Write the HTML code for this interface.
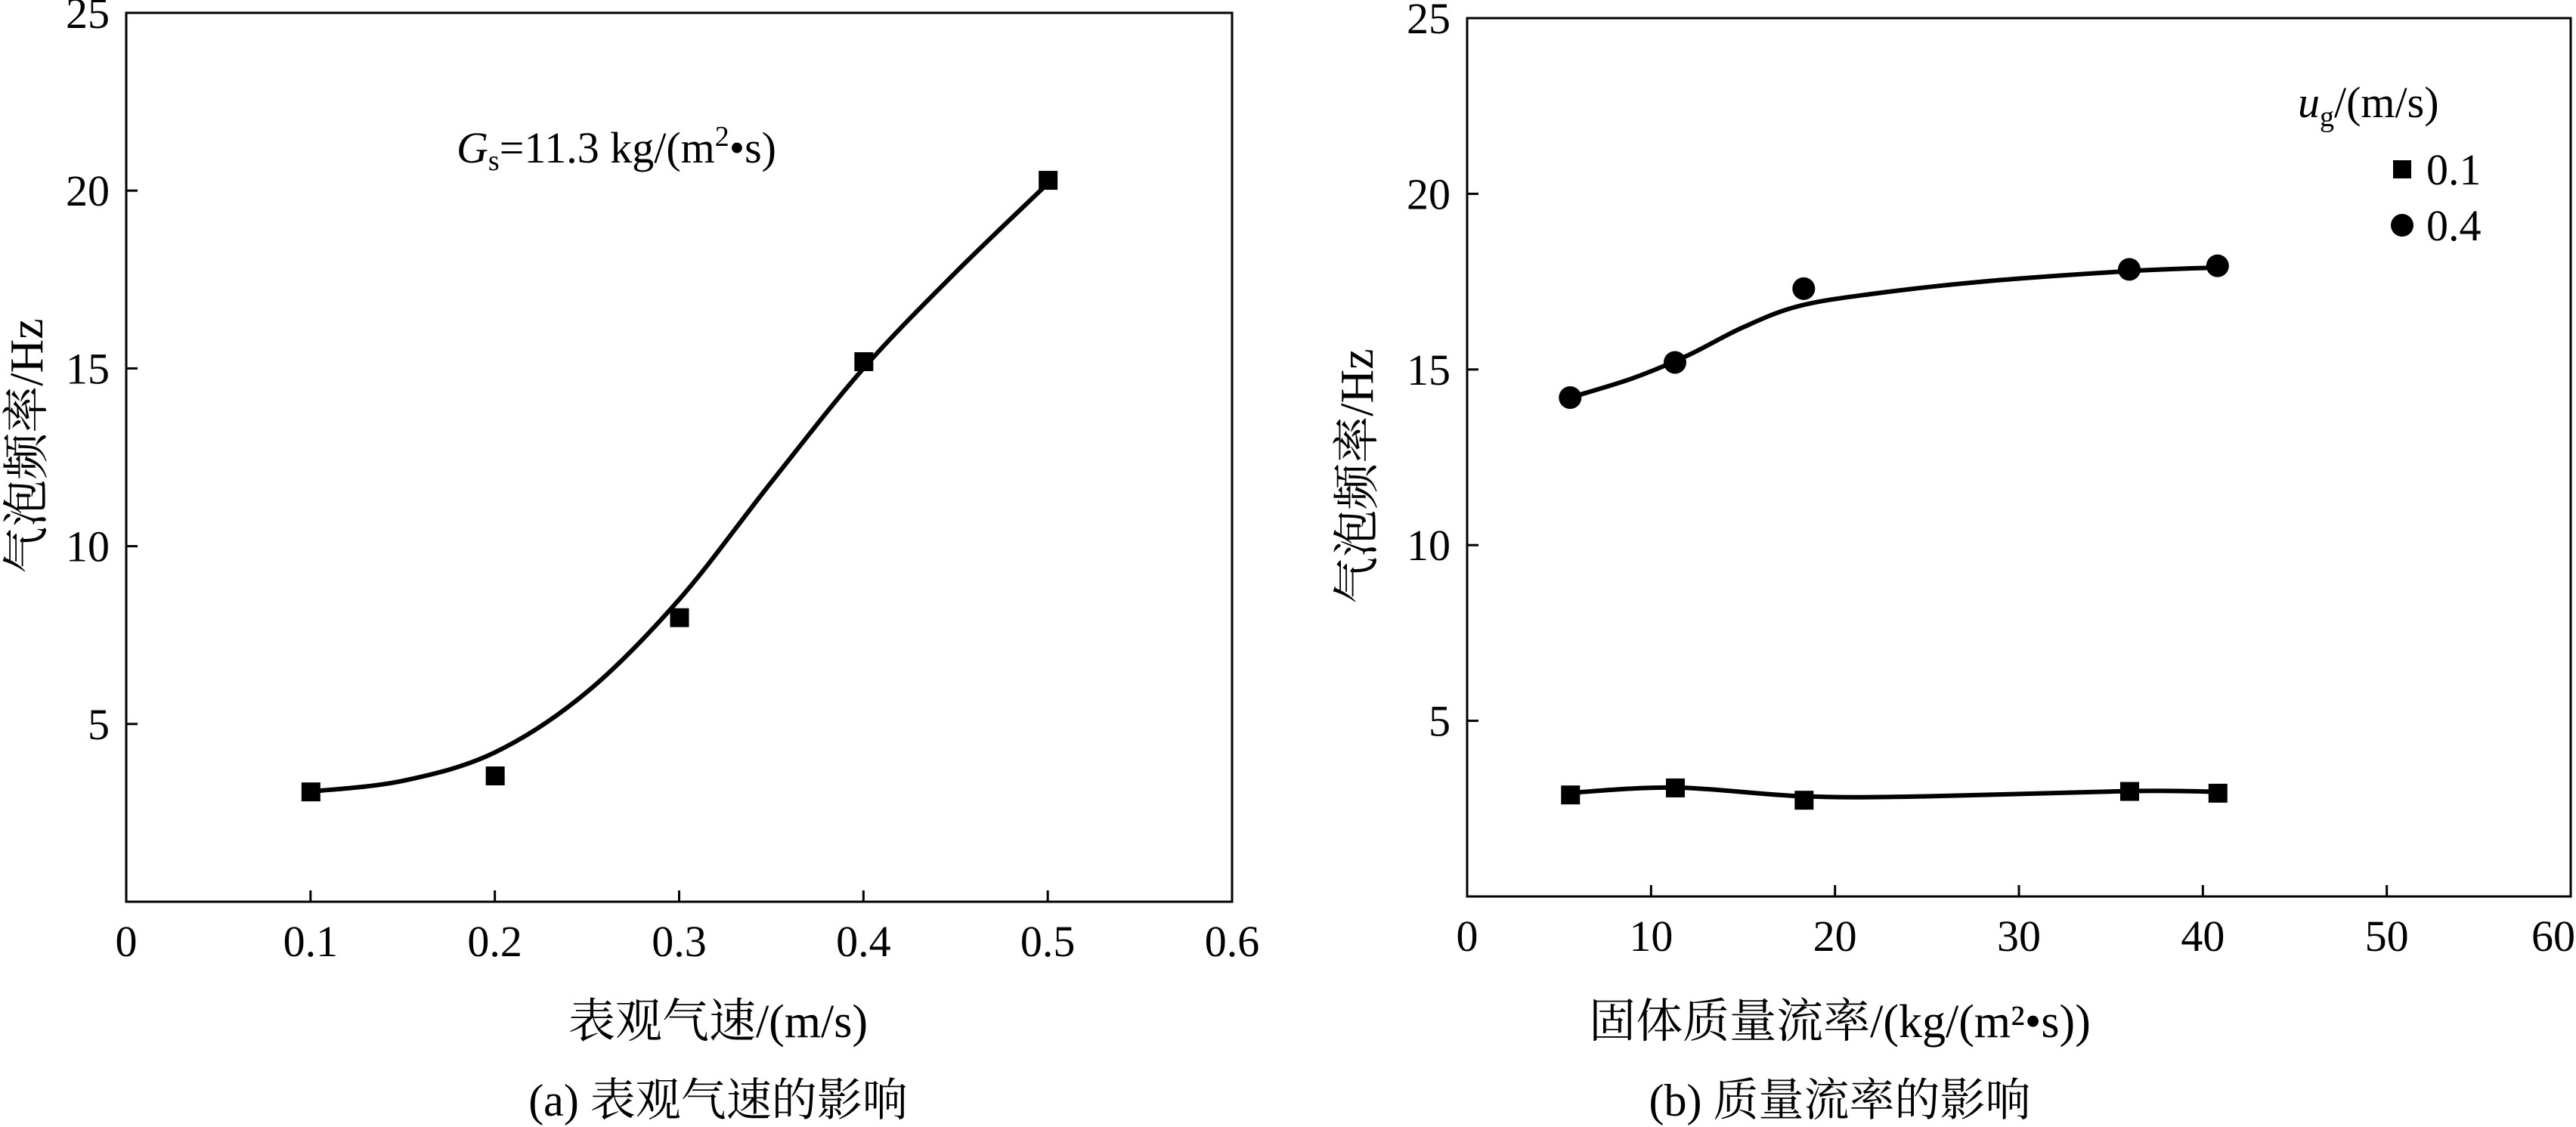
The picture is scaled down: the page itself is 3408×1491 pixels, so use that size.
<!DOCTYPE html>
<html><head><meta charset="utf-8"><style>
html,body{margin:0;padding:0;background:#fff;}
svg{display:block;font-family:"Liberation Serif","Noto Serif CJK SC",serif;}
</style></head><body>
<svg id="svg" width="3408" height="1491" viewBox="0 0 3408 1491" xmlns="http://www.w3.org/2000/svg"></svg>
<script>
// Panel (a) data
const aX = [0.1, 0.2, 0.3, 0.4, 0.5];
const aY = [3.1, 3.55, 8.0, 15.2, 20.3];
const aFitX = [0.1, 0.15, 0.2, 0.25, 0.3, 0.35, 0.4, 0.45, 0.5];
const aFitY = [3.1, 3.4, 4.2, 5.9, 8.5, 11.8, 15.0, 17.7, 20.2];
const aXTicks = [0, 0.1, 0.2, 0.3, 0.4, 0.5, 0.6];
const aXTickLabels = ["0","0.1","0.2","0.3","0.4","0.5","0.6"];
const yTicks = [5, 10, 15, 20, 25];
const yTickLabels = ["5","10","15","20","25"];
// Panel (b) data
const bX = [5.6, 11.3, 18.3, 36.0, 40.8];
const bY01 = [2.9, 3.1, 2.75, 3.0, 2.95];
const bY04 = [14.2, 15.2, 17.3, 17.85, 17.95];
const bFitX01 = [5.6, 11.3, 18.3, 25, 36.0, 40.8];
const bFitY01 = [2.95, 3.1, 2.85, 2.85, 3.0, 2.98];
const bFitX04 = [5.6, 9, 12, 15, 18, 22, 28, 36.0, 40.8];
const bFitY04 = [14.2, 14.75, 15.4, 16.2, 16.8, 17.15, 17.5, 17.8, 17.9];
const bXTicks = [0, 10, 20, 30, 40, 50, 60];
const bXTickLabels = ["0","10","20","30","40","50","60"];

const NS = "http://www.w3.org/2000/svg";
const svg = document.getElementById('svg');
function mk(tag, attrs, parent){
  const e = document.createElementNS(NS, tag);
  for (const k in attrs) e.setAttribute(k, attrs[k]);
  (parent||svg).appendChild(e);
  return e;
}
function curve(xs, ys, sx, sy){
  const p = xs.map((x,i)=>[sx(x), sy(ys[i])]);
  let d = "M"+p[0][0]+","+p[0][1];
  for (let i=0;i<p.length-1;i++){
    const p0=p[i-1]||p[i], p1=p[i], p2=p[i+1], p3=p[i+2]||p[i+1];
    const c1=[p1[0]+(p2[0]-p0[0])/6, p1[1]+(p2[1]-p0[1])/6];
    const c2=[p2[0]-(p3[0]-p1[0])/6, p2[1]-(p3[1]-p1[1])/6];
    d += " C"+c1[0]+","+c1[1]+" "+c2[0]+","+c2[1]+" "+p2[0]+","+p2[1];
  }
  return d;
}
function panel(name, L, R, T, B, xmax, xTicks, xLabels){
  const g = mk('g', {});
  
  
  const sx = v => L + (R-L)*v/xmax;
  const sy = v => B - (B-T)*v/25;
  const box = mk('rect', {x:L, y:T, width:R-L, height:B-T, fill:'none', stroke:'#000', 'stroke-width':3}, g);
  
  
  xTicks.forEach((v,i)=>{
    const t = mk('line', {x1:sx(v), x2:sx(v), y1:B, y2:B-15, stroke:'#000','stroke-width':3}, g);
    
    
    const last = i === xTicks.length-1 && R > 3300;
    const lb = mk('text', {x:last ? sx(v)+6 : sx(v), y:B+72, 'font-size':58, 'text-anchor':last?'end':'middle'}, g);
    lb.textContent = xLabels[i];
    
    
  });
  yTicks.forEach((v,i)=>{
    const t = mk('line', {x1:L, x2:L+15, y1:sy(v), y2:sy(v), stroke:'#000','stroke-width':3}, g);
    
    
    const lb = mk('text', {x:L-22, y:sy(v)+20, 'font-size':58, 'text-anchor':'end'}, g);
    lb.textContent = yTickLabels[i];
    
    
  });
  return {g, sx, sy};
}
function squares(g, xs, ys, sx, sy, name){
  xs.forEach((x,i)=>{
    const r = mk('rect', {x:sx(x)-12, y:sy(ys[i])-12, width:25, height:25, fill:'#000'}, g);
    
    
  });
}
function circles(g, xs, ys, sx, sy, name){
  xs.forEach((x,i)=>{
    const c = mk('circle', {cx:sx(x), cy:sy(ys[i]), r:15, fill:'#000'}, g);
    
    
  });
}
function line(g, xs, ys, sx, sy, name){
  const p = mk('path', {d:curve(xs, ys, sx, sy), fill:'none', stroke:'#000', 'stroke-width':6}, g);
  
  
}
function text(g, x, y, s, size, name, extra){
  const t = mk('text', Object.assign({x:x, y:y, 'font-size':size, 'text-anchor':'middle'}, extra||{}), g);
  t.textContent = s;
  
  
  return t;
}

// Panel A
const A = panel('panel-a', 167, 1630, 17, 1193, 0.6, aXTicks, aXTickLabels);
line(A.g, aFitX, aFitY, A.sx, A.sy, 'fit-curve-a');
squares(A.g, aX, aY, A.sx, A.sy, 'data-point-a');
const ann = mk('text', {x:604, y:215, 'font-size':58}, A.g);


ann.innerHTML = '<tspan font-style="italic">G</tspan><tspan font-size="38" dy="10">s</tspan><tspan dy="-10">=11.3 kg/(m</tspan><tspan font-size="38" dy="-22">2</tspan><tspan dy="22">•s)</tspan>';
text(A.g, 56, 590, '气泡频率/Hz', 62, 'y-axis-title-a', {transform:'rotate(-90 56 590)'});
text(A.g, 950, 1372, '表观气速/(m/s)', 62, 'x-axis-title-a');
text(A.g, 950, 1476, '(a) 表观气速的影响', 60, 'caption-a');

// Panel B
const Bp = panel('panel-b', 1941, 3401, 24, 1186, 60, bXTicks, bXTickLabels);
line(Bp.g, bFitX04, bFitY04, Bp.sx, Bp.sy, 'fit-curve-0.4');
line(Bp.g, bFitX01, bFitY01, Bp.sx, Bp.sy, 'fit-curve-0.1');
squares(Bp.g, bX, bY01, Bp.sx, Bp.sy, 'data-point-0.1');
circles(Bp.g, bX, bY04, Bp.sx, Bp.sy, 'data-point-0.4');
text(Bp.g, 1816, 630, '气泡频率/Hz', 62, 'y-axis-title-b', {transform:'rotate(-90 1816 630)'});
text(Bp.g, 2434, 1372, '固体质量流率/(kg/(m²•s))', 62, 'x-axis-title-b');
text(Bp.g, 2434, 1476, '(b) 质量流率的影响', 60, 'caption-b');
// Legend
const lg = mk('g', {}, Bp.g);


const lt = mk('text', {x:3040, y:155, 'font-size':58}, lg);


lt.innerHTML = '<tspan font-style="italic">u</tspan><tspan font-size="38" dy="12">g</tspan><tspan dy="-12">/(m/s)</tspan>';
const ls = mk('rect', {x:3166, y:212, width:24, height:24, fill:'#000'}, lg);


const lt1 = mk('text', {x:3210, y:244, 'font-size':58}, lg);
lt1.textContent = '0.1';


const lc = mk('circle', {cx:3178, cy:298, r:15, fill:'#000'}, lg);


const lt2 = mk('text', {x:3210, y:318, 'font-size':58}, lg);
lt2.textContent = '0.4';


</script>
</body></html>
